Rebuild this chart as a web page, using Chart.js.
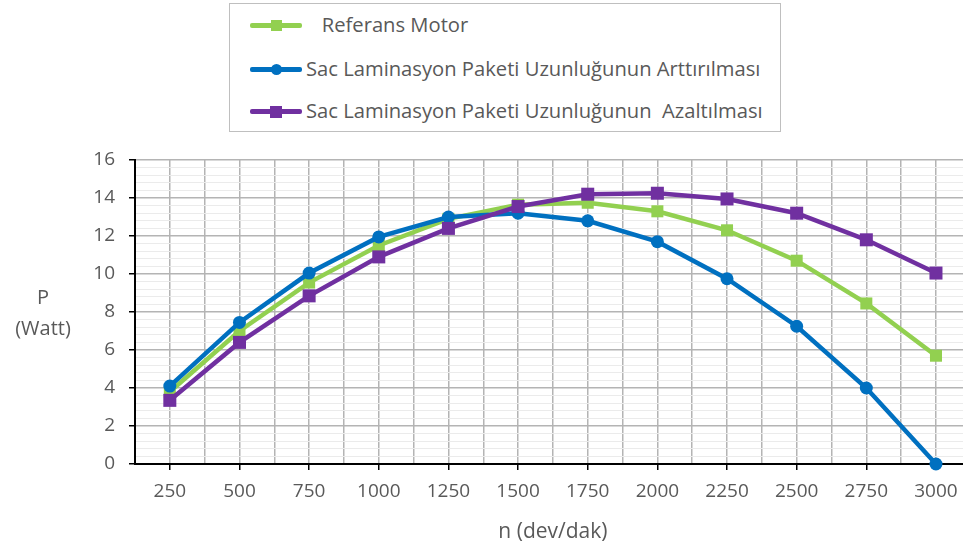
<!DOCTYPE html>
<html lang="tr">
<head>
<meta charset="UTF-8">
<title>P - n</title>
<style>
    body { margin: 0; background: #fff; font-family: "Open Sans", sans-serif; }
    /* the original plot area runs a little past the right edge, so the canvas is wider than the view */
    #wrap { position: relative; width: 963px; height: 549px; overflow: hidden; }
    #legend {
        position: absolute; left: 229px; top: 3px; width: 552px; height: 129px;
        border: 1px solid #bfbfbf; box-sizing: border-box; background: #fff;
    }
    .item { position: absolute; left: 20px; height: 20px; }
    .item .line { position: absolute; left: 0; top: 8px; width: 52px; height: 5px; border-radius: 2px; }
    .item .mark { position: absolute; }
    .item span { position: absolute; left: 56px; top: -5px; white-space: pre; color: #595959; font-size: 20.2px; }
</style>
</head>
<body>
<div id="wrap">
    <canvas id="chart" width="980" height="549"></canvas>
    <div id="legend"></div>
</div>
<script src="https://cdn.jsdelivr.net/npm/chart.js"></script>
<script>
    // devir (dev/dak)
    const speeds = [250, 500, 750, 1000, 1250, 1500, 1750, 2000, 2250, 2500, 2750, 3000];

    const referans = [3.8, 7.0, 9.55, 11.5, 12.9, 13.65, 13.75, 13.3, 12.3, 10.7, 8.45, 5.7];
    const arttirma = [4.1, 7.45, 10.05, 11.95, 13.0, 13.2, 12.8, 11.7, 9.75, 7.25, 4.0, 0];
    const azaltma  = [3.35, 6.4, 8.85, 10.9, 12.4, 13.55, 14.2, 14.25, 13.95, 13.2, 11.8, 10.05];

    const seriesNames = [
        "   Referans Motor",
        "Sac Laminasyon Paketi Uzunluğunun Arttırılması",
        "Sac Laminasyon Paketi Uzunluğunun  Azaltılması"
    ];
    const seriesColors = ["#92D050", "#0070C0", "#7030A0"];
    const yTicks = [0, 2, 4, 6, 8, 10, 12, 14, 16];

    const toPoints = vals => vals.map((v, i) => ({ x: speeds[i], y: v }));
    const isMajor = v => Math.abs(v / 2 - Math.round(v / 2)) < 1e-6;

    const datasets = [
        { label: seriesNames[0], data: toPoints(referans), borderColor: seriesColors[0], backgroundColor: seriesColors[0],
          pointStyle: 'rect', pointRadius: 8.5, order: 3 },
        { label: seriesNames[1], data: toPoints(arttirma), borderColor: seriesColors[1], backgroundColor: seriesColors[1],
          pointStyle: 'circle', pointRadius: 6.5, order: 2 },
        { label: seriesNames[2], data: toPoints(azaltma), borderColor: seriesColors[2], backgroundColor: seriesColors[2],
          pointStyle: 'rect', pointRadius: 9.2, order: 1 }
    ];
    datasets.forEach(d => { d.borderWidth = 4.5; d.tension = 0; d.pointBorderWidth = 0; d.clip = false; });

    // y axis title, drawn horizontally like the original
    const yTitle = {
        id: 'yTitle',
        afterDraw(chart) {
            const ctx = chart.ctx;
            ctx.save();
            ctx.fillStyle = '#595959';
            ctx.font = '20px "Open Sans"';
            ctx.textAlign = 'center';
            ctx.textBaseline = 'middle';
            ctx.fillText('P', 43, 298);
            ctx.fillText('(Watt)', 43, 329);
            ctx.restore();
        }
    };

    new Chart(document.getElementById('chart'), {
        type: 'line',
        data: { datasets: datasets },
        plugins: [yTitle],
        options: {
            responsive: false,
            animation: false,
            layout: { padding: { top: 160, right: 0, left: 0, bottom: 0 } },
            plugins: { legend: { display: false }, tooltip: { enabled: false } },
            scales: {
                x: {
                    type: 'linear',
                    min: 125,
                    max: 3125,
                    afterFit: s => { s.height = 85; s.paddingLeft = 0; s.paddingRight = 0; },
                    afterBuildTicks: s => {
                        s.ticks = [];
                        for (let v = 125; v <= 3125; v += 125) s.ticks.push({ value: v });
                    },
                    border: { color: '#000', width: 2 },
                    grid: {
                        color: '#b4b4b4',
                        lineWidth: 1.5,
                        tickLength: 6,
                        tickColor: c => (speeds.includes(c.tick.value) ? '#000' : 'rgba(0,0,0,0)'),
                        tickWidth: 1.5
                    },
                    ticks: {
                        autoSkip: false,
                        maxRotation: 0,
                        padding: 10,
                        color: '#595959',
                        font: { family: 'Open Sans', size: 19 },
                        callback: v => (speeds.includes(v) ? String(v) : '')
                    },
                    title: {
                        display: true,
                        text: 'n (dev/dak)',
                        color: '#595959',
                        font: { family: 'Open Sans', size: 21 },
                        padding: { top: 5 }
                    }
                },
                y: {
                    min: 0,
                    max: 16,
                    afterFit: s => { s.width = 135; },
                    afterBuildTicks: s => {
                        s.ticks = [];
                        for (let i = 0; i <= 40; i++) s.ticks.push({ value: Math.round(i * 4) / 10 });
                    },
                    border: { color: '#000', width: 2 },
                    grid: {
                        color: c => (isMajor(c.tick.value) ? '#b4b4b4' : '#ebebeb'),
                        lineWidth: c => (isMajor(c.tick.value) ? 1.5 : 1),
                        tickLength: 6,
                        tickColor: c => (isMajor(c.tick.value) ? '#000' : 'rgba(0,0,0,0)'),
                        tickWidth: 1.5
                    },
                    ticks: {
                        autoSkip: false,
                        padding: 14,
                        color: '#595959',
                        font: { family: 'Open Sans', size: 19 },
                        callback: v => (yTicks.includes(Math.round(v * 10) / 10) && isMajor(v) ? String(Math.round(v)) : '')
                    }
                }
            }
        }
    });

    // legend box: line with marker in the middle, text to the right
    const legend = document.getElementById('legend');
    const rowTops = [11, 55, 97];
    datasets.forEach((d, i) => {
        const item = document.createElement('div');
        item.className = 'item';
        item.style.top = rowTops[i] + 'px';
        const line = document.createElement('div');
        line.className = 'line';
        line.style.background = seriesColors[i];
        const mark = document.createElement('div');
        mark.className = 'mark';
        const size = d.pointStyle === 'circle' ? 11 : (i === 2 ? 12 : 11);
        mark.style.width = size + 'px';
        mark.style.height = size + 'px';
        mark.style.left = (26 - size / 2) + 'px';
        mark.style.top = (10.5 - size / 2) + 'px';
        mark.style.background = seriesColors[i];
        if (d.pointStyle === 'circle') mark.style.borderRadius = '50%';
        const txt = document.createElement('span');
        txt.textContent = seriesNames[i];
        item.appendChild(line);
        item.appendChild(mark);
        item.appendChild(txt);
        legend.appendChild(item);
    });
</script>
</body>
</html>
